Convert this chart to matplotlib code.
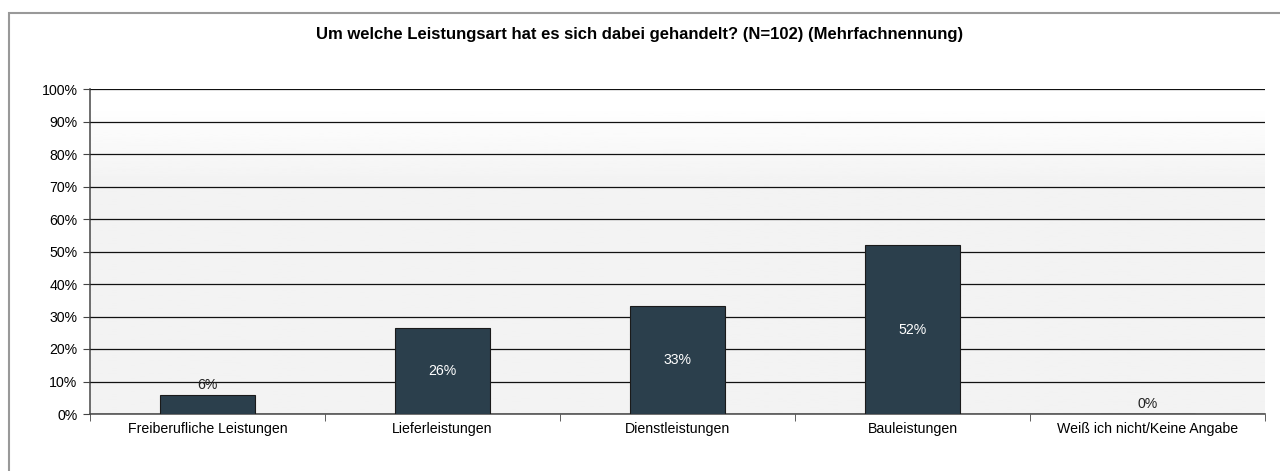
import numpy as np
import matplotlib.pyplot as plt
from matplotlib.patches import Rectangle

plt.rcParams['font.family'] = ['Liberation Sans', 'DejaVu Sans']

title = "Um welche Leistungsart hat es sich dabei gehandelt? (N=102) (Mehrfachnennung)"
categories = ["Freiberufliche Leistungen", "Lieferleistungen", "Dienstleistungen",
              "Bauleistungen", "Weiß ich nicht/Keine Angabe"]
values = [5.9, 26.5, 33.3, 52.0, 0.0]
yticks = [0, 10, 20, 30, 40, 50, 60, 70, 80, 90, 100]

bar_color = "#2b3f4c"

fig = plt.figure(figsize=(12.8, 4.71), dpi=100)
# outer frame (runs off the right and bottom edges)
fig.patches.append(Rectangle((9 / 1280, -0.1), 1.2, 1.1 - 13 / 471, transform=fig.transFigure,
                             fill=False, edgecolor="#999999", linewidth=1.5))

ax = fig.add_axes([90 / 1280, 1 - 414 / 471, 1175 / 1280, 325 / 471])

# background gradient: white at top, light grey lower down
grad = np.clip((95 - np.linspace(0, 100, 200)) / 25, 0, 1)
grad = 1 - 0.05 * grad
ax.imshow(grad[:, None], extent=[-0.5, 4.5, 0, 100], origin="lower", aspect="auto",
          cmap="gray", vmin=0, vmax=1, zorder=0)

x = np.arange(len(categories))
ax.bar(x, values, width=0.405, color=bar_color, edgecolor="#1a1a1a", linewidth=0.8, zorder=3)

for xi, v in zip(x, values):
    label = f"{round(v)}%"
    if v >= 20:
        ax.text(xi, v / 2, label, ha="center", va="center", color="white", fontsize=10.2, zorder=4)
    else:
        ax.text(xi, v + 1.0, label, ha="center", va="bottom", color="#222222", fontsize=10.2, zorder=4)

ax.set_xlim(-0.5, 4.5)
ax.set_ylim(0, 100)
ax.set_yticks(yticks)
ax.set_yticklabels([f"{t}%" for t in yticks], fontsize=10.2)
ax.yaxis.grid(True, color="#111111", linewidth=0.9, zorder=1)
ax.set_axisbelow(False)
for gl in ax.get_ygridlines():
    gl.set_zorder(1)

ax.set_xticks(x)
ax.set_xticklabels(categories, fontsize=10.2)
ax.tick_params(axis="x", length=0, pad=6)
ax.set_xticks(np.arange(-0.5, 5, 1), minor=True)
ax.tick_params(axis="x", which="minor", length=5, color="#444444", direction="out")
ax.tick_params(axis="y", length=5, color="#444444", direction="out", pad=4)

for s in ["top", "right"]:
    ax.spines[s].set_visible(False)
for s in ["left", "bottom"]:
    ax.spines[s].set_color("#555555")
    ax.spines[s].set_linewidth(1.2)

fig.text(0.5, 1 - 34 / 471, title, ha="center", va="center", fontsize=12, fontweight="bold")

fig.savefig("out.png", dpi=100)
